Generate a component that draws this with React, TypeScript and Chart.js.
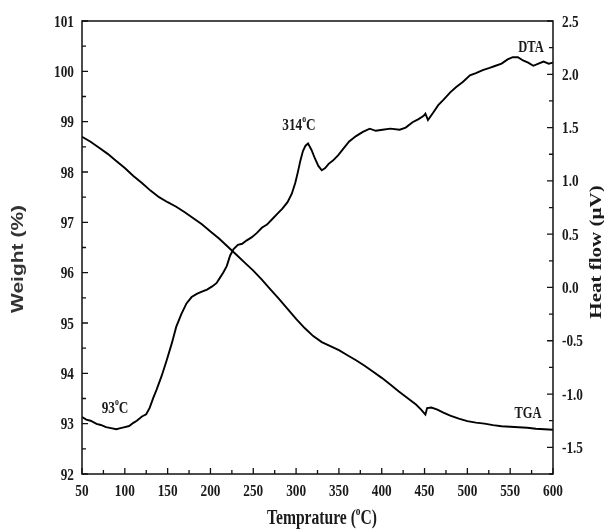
import React, { useEffect, useRef } from "react";
import { Chart, registerables } from "chart.js";

Chart.register(...registerables);

// TGA (weight %, left axis)
const tgaTemps = [50, 60, 70, 80, 90, 100, 110, 120, 130, 140, 150, 160, 170, 180, 190, 200, 210, 220, 230, 240, 250, 260, 270, 280, 290, 300, 310, 320, 330, 340, 350, 360, 370, 380, 390, 400, 410, 420, 430, 440, 446, 450, 451, 453, 458, 465, 472, 480, 490, 500, 510, 520, 530, 540, 550, 560, 570, 580, 590, 600];
const tgaWeight = [98.7, 98.6, 98.48, 98.36, 98.22, 98.08, 97.92, 97.78, 97.63, 97.5, 97.4, 97.31, 97.2, 97.08, 96.96, 96.82, 96.68, 96.52, 96.36, 96.2, 96.04, 95.86, 95.67, 95.48, 95.28, 95.08, 94.9, 94.74, 94.62, 94.54, 94.46, 94.36, 94.26, 94.15, 94.03, 93.91, 93.78, 93.64, 93.51, 93.38, 93.28, 93.2, 93.18, 93.31, 93.32, 93.28, 93.22, 93.16, 93.1, 93.05, 93.02, 93.0, 92.97, 92.95, 92.94, 92.93, 92.92, 92.9, 92.89, 92.88];

// DTA (heat flow µV, right axis)
const dtaTemps = [50, 55, 60, 67, 72, 78, 84, 90, 95, 100, 105, 110, 114, 120, 125, 129, 133, 137, 143, 149, 155, 160, 166, 172, 178, 184, 190, 196, 202, 207, 211, 215, 219, 223, 227, 232, 237, 242, 248, 254, 260, 266, 272, 278, 284, 290, 295, 299, 302, 305, 308, 311, 314, 318, 322, 326, 330, 334, 338, 343, 349, 355, 362, 370, 378, 386, 393, 401, 410, 421, 428, 436, 443, 449, 451, 454, 460, 466, 472, 480, 487, 495, 503, 510, 518, 526, 533, 540, 547, 553, 559, 565, 571, 577, 583, 589, 595, 600];
const dtaHeat = [-1.215, -1.24, -1.25, -1.28, -1.29, -1.31, -1.32, -1.33, -1.32, -1.31, -1.3, -1.27, -1.25, -1.21, -1.19, -1.13, -1.04, -0.96, -0.83, -0.68, -0.52, -0.37, -0.25, -0.15, -0.09, -0.06, -0.04, -0.02, 0.01, 0.04, 0.09, 0.14, 0.2, 0.3, 0.36, 0.4, 0.41, 0.44, 0.47, 0.51, 0.56, 0.59, 0.64, 0.69, 0.74, 0.8, 0.88, 0.98, 1.08, 1.19, 1.28, 1.33, 1.35, 1.29, 1.21, 1.14, 1.1, 1.12, 1.16, 1.19, 1.24, 1.3, 1.37, 1.42, 1.46, 1.49, 1.47, 1.48, 1.49, 1.48, 1.5, 1.55, 1.58, 1.61, 1.63, 1.57, 1.64, 1.71, 1.76, 1.83, 1.88, 1.93, 1.99, 2.01, 2.04, 2.06, 2.08, 2.1, 2.14, 2.16, 2.16, 2.13, 2.11, 2.08, 2.1, 2.12, 2.1, 2.11];

const xTicks = [50, 100, 150, 200, 250, 300, 350, 400, 450, 500, 550, 600];
const leftTicks = [92, 93, 94, 95, 96, 97, 98, 99, 100, 101];
const rightTicks = [-1.5, -1.0, -0.5, 0.0, 0.5, 1.0, 1.5, 2.0, 2.5];

const SERIF = '"Liberation Serif", "Times New Roman", serif';
const SANS = '"Liberation Sans", Arial, sans-serif';
const SX = 0.78;

type Seg = { t: string; sup?: boolean };

function drawSegs(ctx: CanvasRenderingContext2D, segs: Seg[], x: number, y: number, size: number, align: "left" | "center" | "right", sx: number, family = SERIF) {
  const supSize = Math.round(size * 0.6);
  const widths = segs.map((s) => {
    ctx.font = `bold ${s.sup ? supSize : size}px ${family}`;
    return ctx.measureText(s.t).width;
  });
  const total = widths.reduce((a, b) => a + b, 0);
  ctx.save();
  ctx.translate(x, y);
  ctx.scale(sx, 1);
  let cx = align === "left" ? 0 : align === "center" ? -total / 2 : -total;
  ctx.textAlign = "left";
  ctx.textBaseline = "alphabetic";
  segs.forEach((s, i) => {
    ctx.font = `bold ${s.sup ? supSize : size}px ${family}`;
    ctx.fillText(s.t, cx, s.sup ? -size * 0.45 : 0);
    cx += widths[i];
  });
  ctx.restore();
}

const decorPlugin = {
  id: "decor",
  afterDraw(chart: any) {
    const ctx: CanvasRenderingContext2D = chart.ctx;
    const { left, right, top, bottom } = chart.chartArea;
    const xs = chart.scales.x;
    const yl = chart.scales.y;
    const yr = chart.scales.y2;
    ctx.save();
    ctx.strokeStyle = "#111";
    ctx.fillStyle = "#111";
    ctx.lineWidth = 1.5;
    ctx.strokeRect(left, top, right - left, bottom - top);

    ctx.lineWidth = 1.3;
    const major = 6;
    const minor = 4;
    ctx.beginPath();
    xTicks.forEach((v, i) => {
      const px = xs.getPixelForValue(v);
      ctx.moveTo(px, bottom);
      ctx.lineTo(px, bottom - major);
      if (i < xTicks.length - 1) {
        const pm = xs.getPixelForValue((v + xTicks[i + 1]) / 2);
        ctx.moveTo(pm, bottom);
        ctx.lineTo(pm, bottom - minor);
      }
    });
    leftTicks.forEach((v, i) => {
      const py = yl.getPixelForValue(v);
      ctx.moveTo(left, py);
      ctx.lineTo(left + major, py);
      if (i < leftTicks.length - 1) {
        const pm = yl.getPixelForValue((v + leftTicks[i + 1]) / 2);
        ctx.moveTo(left, pm);
        ctx.lineTo(left + minor, pm);
      }
    });
    const rMinors = [-1.75, ...rightTicks.slice(0, -1).map((v, i) => (v + rightTicks[i + 1]) / 2)];
    rightTicks.forEach((v) => {
      const py = yr.getPixelForValue(v);
      ctx.moveTo(right, py);
      ctx.lineTo(right - major, py);
    });
    rMinors.forEach((v) => {
      const py = yr.getPixelForValue(v);
      ctx.moveTo(right, py);
      ctx.lineTo(right - minor, py);
    });
    ctx.stroke();

    // tick labels
    ctx.fillStyle = "#1a1a1a";
    xTicks.forEach((v) => {
      drawSegs(ctx, [{ t: String(v) }], xs.getPixelForValue(v), bottom + 22, 17, "center", SX);
    });
    leftTicks.forEach((v) => {
      drawSegs(ctx, [{ t: String(v) }], left - 8, yl.getPixelForValue(v) + 5.5, 17, "right", SX);
    });
    rightTicks.forEach((v) => {
      drawSegs(ctx, [{ t: v.toFixed(1) }], right + 9, yr.getPixelForValue(v) + 5.5, 17, "left", SX);
    });

    // axis titles
    drawSegs(ctx, [{ t: "Temprature (" }, { t: "o", sup: true }, { t: "C)" }], 322, 524, 20, "center", SX);

    ctx.save();
    ctx.translate(597, 252);
    ctx.rotate(-Math.PI / 2);
    ctx.scale(1, SX);
    ctx.font = `bold 21px ${SERIF}`;
    ctx.textAlign = "center";
    ctx.textBaseline = "middle";
    ctx.fillText("Heat flow (\u00b5V)", 0, 0);
    ctx.restore();

    ctx.save();
    ctx.fillStyle = "#333";
    ctx.translate(19, 259);
    ctx.rotate(-Math.PI / 2);
    ctx.scale(1, 0.75);
    ctx.font = `bold 21px ${SANS}`;
    ctx.textAlign = "center";
    ctx.textBaseline = "middle";
    ctx.fillText("Weight (%)", 0, 0);
    ctx.restore();

    // annotations
    ctx.fillStyle = "#1a1a1a";
    drawSegs(ctx, [{ t: "314" }, { t: "o", sup: true }, { t: "C" }], 299, 130, 17, "center", SX);
    drawSegs(ctx, [{ t: "93" }, { t: "o", sup: true }, { t: "C" }], 115, 413, 17, "center", SX);
    drawSegs(ctx, [{ t: "DTA" }], 531, 52, 16, "center", SX);
    drawSegs(ctx, [{ t: "TGA" }], 528, 418, 16, "center", SX);
    ctx.restore();
  },
};

export default function App() {
  const ref = useRef<HTMLCanvasElement | null>(null);
  useEffect(() => {
    if (!ref.current) return;
    const chart = new Chart(ref.current, {
      type: "line",
      data: {
        datasets: [
          {
            label: "TGA",
            data: tgaTemps.map((t, i) => ({ x: t, y: tgaWeight[i] })),
            yAxisID: "y",
            borderColor: "#000",
            borderWidth: 1.9,
            pointRadius: 0,
            tension: 0,
            fill: false,
          },
          {
            label: "DTA",
            data: dtaTemps.map((t, i) => ({ x: t, y: dtaHeat[i] })),
            yAxisID: "y2",
            borderColor: "#000",
            borderWidth: 1.9,
            pointRadius: 0,
            tension: 0,
            fill: false,
          },
        ],
      },
      options: {
        animation: false,
        responsive: false,
        devicePixelRatio: 1,
        layout: { padding: { top: 21, left: 0, right: 0, bottom: 0 } },
        plugins: { legend: { display: false }, tooltip: { enabled: false } },
        scales: {
          x: {
            type: "linear",
            min: 50,
            max: 600,
            ticks: { display: false },
            grid: { display: false, drawTicks: false },
            border: { display: false },
            afterFit: (s: any) => {
              s.height = 55;
            },
          },
          y: {
            position: "left",
            min: 92,
            max: 101,
            ticks: { display: false },
            grid: { display: false, drawTicks: false },
            border: { display: false },
            afterFit: (s: any) => {
              s.width = 82;
            },
          },
          y2: {
            position: "right",
            min: -1.75,
            max: 2.5,
            ticks: { display: false },
            grid: { display: false, drawTicks: false },
            border: { display: false },
            afterFit: (s: any) => {
              s.width = 51;
            },
          },
        },
      } as any,
      plugins: [decorPlugin],
    });
    return () => chart.destroy();
  }, []);
  return (
    <div style={{ position: "fixed", left: 0, top: 0, width: 604, height: 529, background: "#fff" }}>
      <canvas ref={ref} width={604} height={529} style={{ display: "block" }} />
    </div>
  );
}
